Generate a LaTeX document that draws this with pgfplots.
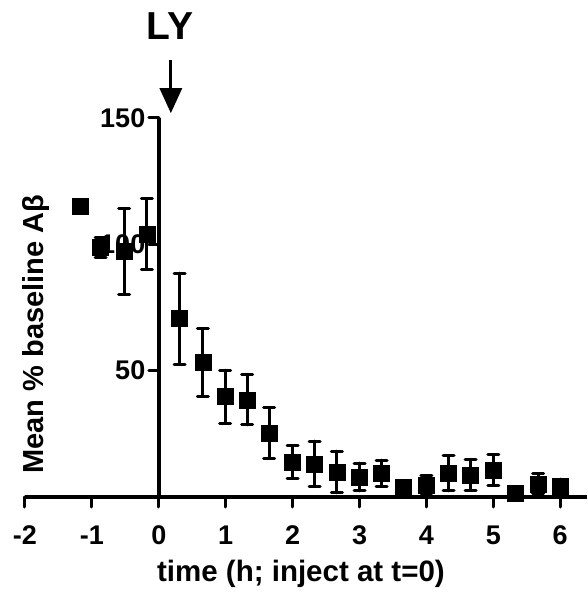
\documentclass[border=0pt]{standalone}
\usepackage{pgfplots}
\pgfplotsset{compat=1.18}
\usepackage{fontspec}
\setmainfont{Liberation Sans}
\usetikzlibrary{arrows.meta}
\newcommand\xt[1]{{\fontsize{27}{27}\selectfont\bfseries #1}}
\newcommand\yt[1]{{\fontsize{27}{27}\selectfont\bfseries #1}}
\pgfplotstableread{
x y e
-1.18 115.0 0
-0.87 98.8 4
-0.52 97.2 17
-0.18 104.0 14
0.31 70.6 18
0.66 53.2 13.5
0.99 39.7 10.5
1.32 38.5 10
1.65 25.4 10
2.00 13.9 6.4
2.33 13.1 9
2.66 9.9 8.3
3.00 7.9 5.5
3.33 9.4 5.2
3.66 4.0 0
4.00 4.8 3.6
4.33 9.4 7
4.66 8.7 6.2
5.00 10.7 6
5.33 1.6 0
5.67 5.2 4
6.00 4.4 2.7
}\datatab
\begin{document}
\begin{tikzpicture}
\begin{axis}[
  at={(0,0)}, anchor=south west,
  scale only axis, width=562pt, height=379pt,
  xmin=-2, xmax=6.4, ymin=0, ymax=150,
  axis lines=middle,
  axis line style={-, line width=3.5pt},
  hide obscured x ticks=false,
  hide obscured y ticks=false,
  xtick={-2,-1,0,1,2,3,4,5,6},
  xticklabels={\xt{-2},\xt{-1},\xt{0},\xt{1},\xt{2},\xt{3},\xt{4},\xt{5},\xt{6}},
  ytick={50,100,150},
  yticklabels={\yt{50},\yt{100},\yt{150}},
  minor tick num=0,
  tick align=outside,
  major tick length=10pt,
  tick style={line width=3pt, black, line cap=round},
  xticklabel shift=15pt,
  clip=false,
  every axis x label/.style={at={(rel axis cs:0.491,0)}, yshift=-77pt, anchor=center, font=\fontsize{29.5}{29.5}\selectfont\bfseries},
  every axis y label/.style={at={(rel axis cs:0,0.43)}, xshift=11pt, rotate=90, anchor=center, font=\fontsize{29}{29}\selectfont\bfseries},
  xlabel={time (h; inject at t=0)},
  ylabel={Mean \% baseline Aβ},
]
\addplot[black, only marks, mark=square*, mark size=8pt,
  error bars/.cd, y dir=both, y explicit, error mark=|,
  error bar style={line width=3pt, line cap=round},
  error mark options={black, line width=3pt, mark size=5.5pt, line cap=round}]
  table[x=x, y=y, y error=e] {\datatab};
\node[font=\fontsize{39}{39}\selectfont\bfseries] at (axis cs:0.167,186.5) {LY};
\draw[line width=3pt, -{Triangle[width=22pt,length=25pt]}] (axis cs:0.18,173) -- (axis cs:0.18,151.9);
\end{axis}
\pgfresetboundingbox
\path (-25pt,-96pt) rectangle (562pt,497pt);
\end{tikzpicture}
\end{document}
